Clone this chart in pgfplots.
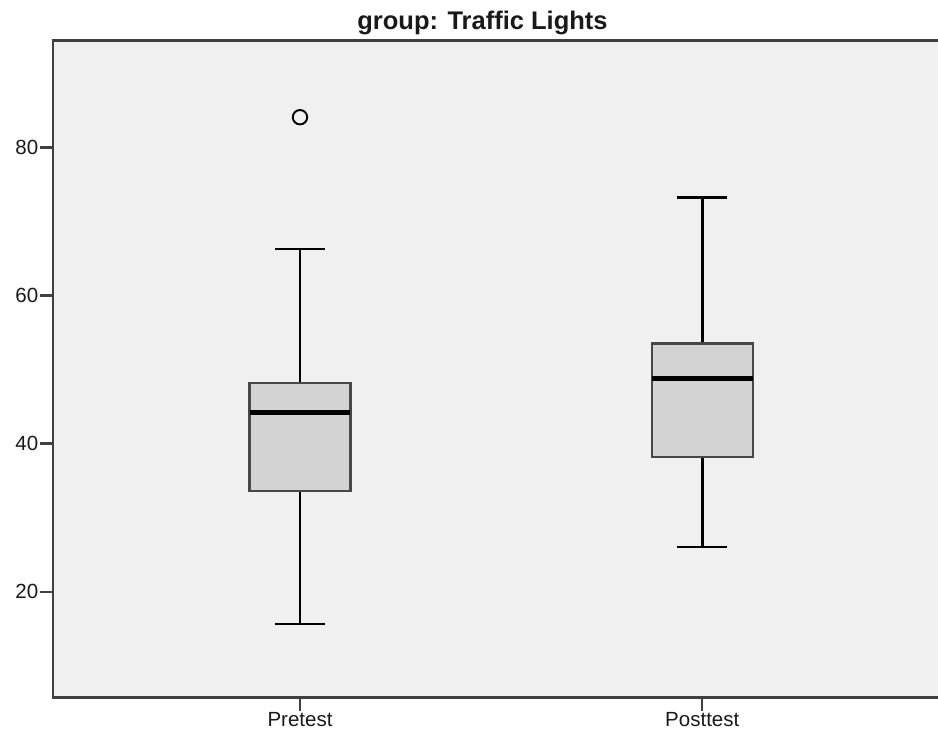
\documentclass[border=0pt]{standalone}
\usepackage{fontspec}
\setmainfont{Liberation Sans}
\usepackage{pgfplots}
\pgfplotsset{compat=1.18}
\usepgfplotslibrary{statistics}
\definecolor{plotbg}{HTML}{F0F0F0}
\definecolor{boxfill}{HTML}{D3D3D3}
\definecolor{axisgray}{HTML}{404040}
\begin{document}
\begin{tikzpicture}
\useasboundingbox (0pt,0pt) rectangle (938pt,738pt);
\begin{axis}[
  at={(53pt,40.3pt)}, anchor=south west,
  scale only axis, width=885pt, height=657.4pt,
  xmin=3.86, xmax=25.86, ymin=5.69, ymax=94.49,
  axis background/.style={fill=plotbg},
  axis line style={draw=none},
  xtick={10,20}, xticklabels={Pretest,Posttest},
  ytick={20,40,60,80},
  xtick pos=bottom, ytick pos=left,
  tick align=outside, major tick length=13pt,
  tick style={axisgray, line width=2.4pt},
  /pgf/number format/assume math mode=true,
  ticklabel style={font=\fontsize{20.5}{24}\selectfont, text=black!90},
  yticklabel style={inner sep=1.5pt},
  xticklabel style={inner sep=2pt},
  boxplot/draw direction=y,
  boxplot/every box/.style={draw=black!72, line width=2.1pt, fill=boxfill},
  boxplot/every whisker/.style={black, line width=2.5pt},
  boxplot/every median/.style={black, line width=4.8pt},
  clip=false,
]
\addplot+[boxplot prepared={draw position=10, lower whisker=15.64, lower quartile=33.6, median=44.17, upper quartile=48.14, upper whisker=66.27, box extend=2.51, whisker extend=1.24},
  mark=o, mark size=7.2pt, mark options={black, line width=1.9pt}, solid, black]
  table[row sep=\\, y index=0] {y\\ 84.1\\};
\addplot+[boxplot prepared={draw position=20, lower whisker=26.04, lower quartile=38.23, median=48.76, upper quartile=53.54, upper whisker=73.25, box extend=2.51, whisker extend=1.24}, solid, black]
  coordinates {};
\draw[axisgray, line width=2.8pt] (rel axis cs:1,1) -- (rel axis cs:0,1) -- (rel axis cs:0,0) -- (rel axis cs:1,0);
\end{axis}
\node[anchor=base, font=\bfseries\fontsize{25.5}{30}\selectfont, text=black!90] at (482.5pt,708pt) {group: Traffic Lights};
\end{tikzpicture}
\end{document}
